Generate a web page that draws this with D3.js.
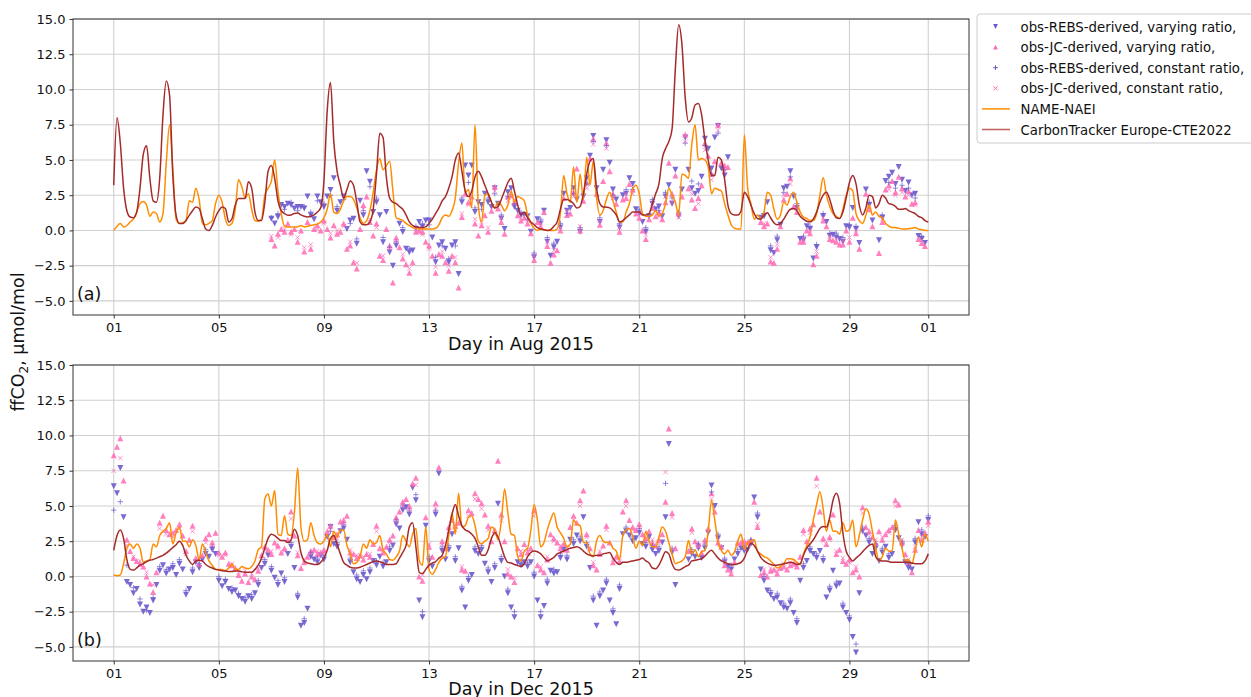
<!DOCTYPE html>
<html>
<head>
<meta charset="utf-8">
<script src="https://cdn.jsdelivr.net/npm/d3@7"></script>
<style>
  body { margin: 0; background: #fff; }
  svg { display: block; font-family: "DejaVu Sans", sans-serif; }
</style>
</head>
<body>
<svg id="chart" width="1251" height="697"></svg>
<script>
// sampling: model lines and varying-ratio obs every 3 h, constant-ratio obs every 6 h,
// first value at 00:00 on day 1 of the month
const stepHours = 3;
const conStepHours = 6;
const dayTicks = [1, 5, 9, 13, 17, 21, 25, 29];
const yTicks = [-5, -2.5, 0, 2.5, 5, 7.5, 10, 12.5, 15];

// ---- August 2015 ----
const ctAug = [3.2,8.0,6.2,3.0,1.4,0.95,0.9,1.3,3.0,5.4,6.0,3.7,2.1,2.0,3.7,8.2,10.6,9.6,3.9,1.07,0.5,0.5,0.7,1.07,1.4,1.67,1.55,0.83,0.1,0.0,0.36,0.95,1.4,1.67,1.55,0.6,0.83,1.8,2.26,2.26,2.26,3.45,3.0,1.3,0.7,0.7,2.0,4.2,4.6,3.7,2.1,1.4,1.2,1.07,1.1,1.2,1.24,
  1.1,1.0,0.95,1.0,1.1,1.3,1.6,3.5,8.5,10.5,6.3,4.2,3.2,2.3,2.9,3.5,3.2,2.0,0.6,0.4,0.4,0.6,1.5,4.0,6.9,6.6,3.8,2.3,2.0,1.9,1.7,1.5,1.1,0.6,0.35,0.25,0.2,0.2,0.25,0.5,0.8,1.2,1.6,2.1,2.4,3.0,3.8,5.0,5.5,4.2,2.8,2.4,2.8,3.8,4.2,3.8,3.2,2.6,2.0,1.6,1.7,2.2,2.8,3.4,3.7,2.8,1.8,1.1,
  1.3,0.9,0.6,0.4,0.2,0.1,0.05,0.0,0.05,0.3,0.6,1.5,2.2,2.2,2.1,1.9,1.6,1.7,2.6,4.0,4.9,5.1,3.0,1.9,1.67,1.65,1.6,1.4,1.1,0.6,0.7,0.9,1.1,1.3,1.3,1.3,1.1,1.1,1.2,1.9,2.6,3.3,5.1,5.8,6.3,7.2,11.5,14.6,13.2,9.4,7.7,8.0,8.9,9.0,8.2,6.4,5.0,3.9,3.9,5.2,5.0,3.6,1.8,1.2,1.1,1.1,1.4,2.7,
  2.4,1.8,1.2,0.85,0.8,1.1,1.25,0.9,0.55,0.4,0.5,0.8,1.2,1.5,1.55,1.4,1.0,0.8,0.65,0.6,0.8,1.3,2.0,2.5,2.7,2.2,1.4,0.9,0.85,1.3,2.3,3.4,3.9,3.3,1.8,1.1,1.6,2.5,2.4,1.6,1.9,2.5,2.3,1.9,1.85,1.7,1.5,1.5,1.55,1.4,1.3,1.2,1.0,0.9,0.7,0.6];

const nameAug = [0.0,0.3,0.5,0.25,0.35,0.6,0.8,1.3,1.9,2.05,1.8,1.0,1.3,1.2,0.6,1.2,4.8,7.5,4.3,0.8,0.5,0.55,0.7,2.1,2.0,3.0,2.2,0.5,0.4,0.5,0.7,1.9,2.5,2.0,0.8,0.35,0.5,1.5,3.6,3.1,2.3,2.6,1.5,0.7,0.65,0.8,2.5,3.0,3.5,5.0,2.8,1.2,0.3,0.25,0.25,0.25,0.25,
  0.35,0.25,0.3,0.35,0.4,0.45,0.6,0.9,1.5,2.6,1.3,1.2,1.5,2.1,2.4,2.4,2.2,1.6,0.9,0.5,0.7,1.4,2.7,4.3,5.1,4.3,4.6,4.9,2.8,0.9,0.8,0.7,0.5,0.35,0.2,0.15,0.1,0.1,0.1,0.1,0.1,0.15,0.4,0.9,1.1,1.0,1.4,2.3,4.8,6.2,2.7,2.9,1.6,7.5,1.8,0.6,2.5,2.6,2.0,1.6,2.0,1.8,1.4,1.8,2.8,2.0,2.4,2.3,
  2.1,1.1,0.5,0.15,0.0,0.1,0.05,0.0,0.0,0.0,0.1,1.2,3.9,2.6,2.0,4.5,2.0,4.0,2.2,5.2,3.2,4.9,2.3,1.1,1.4,2.2,2.7,2.1,1.3,0.6,0.6,1.3,1.9,2.9,3.2,2.6,1.2,1.0,1.0,1.1,1.4,1.0,1.2,1.9,3.0,2.5,2.0,1.1,4.0,3.9,3.7,6.1,7.5,5.0,5.1,5.0,4.5,2.6,3.0,2.9,2.8,1.9,1.1,0.4,0.15,0.1,0.1,6.8,
  3.0,1.9,0.8,1.1,0.85,1.3,2.7,2.5,1.5,0.8,1.1,2.0,1.8,2.4,2.7,2.0,1.3,0.95,0.85,0.7,0.7,1.2,2.5,3.75,2.5,1.7,1.2,1.0,0.85,1.5,2.5,3.0,2.8,1.2,0.7,0.5,1.07,1.8,1.1,1.3,1.0,0.9,0.5,0.3,0.2,0.2,0.15,0.1,0.1,0.12,0.15,0.2,0.1,0.05,0.0,0.0];

const rebsVarAug = [null,null,null,null,null,null,null,null,null,null,null,null,null,null,null,null,
  null,null,null,null,null,null,null,null,null,null,null,null,null,null,null,null,
  null,null,null,null,null,null,null,null,null,null,null,null,null,null,null,null,
  0.83,0.5,0.95,1.8,1.67,1.9,1.8,1.55,1.67,
  1.67,1.55,2.4,1.07,0.8,2.4,2.0,1.67,2.4,2.86,3.7,1.4,2.0,2.4,0.1,0.7,0.83,-0.95,2.1,1.07,4.2,3.45,1.3,2.0,1.07,-0.83,1.3,-1.55,-2.5,-1.07,0.48,-0.12,-1.3,-1.55,-1.43,0.1,0.6,0.24,0.7,0.7,-0.5,-2.26,-1.07,-0.83,-1.3,-2.26,-1.07,-0.83,-3.1,2.0,4.6,3.9,4.6,1.3,2.0,1.8,2.6,2.0,1.67,3.0,1.9,0.83,0.1,2.7,3.0,1.67,1.4,1.07,
  1.1,1.0,-0.1,-1.9,0.8,0.5,1.4,-0.8,-1.8,-1.2,-0.8,0.2,2.6,1.4,1.6,3.0,2.2,-0.1,2.4,3.7,5.3,6.7,3.0,0.6,4.3,6.4,4.8,2.9,2.2,0.2,2.5,2.6,3.7,3.3,1.5,1.2,0.6,-0.1,1.0,1.9,1.5,1.7,1.0,2.4,3.2,1.9,4.3,1.0,2.9,6.6,4.3,3.0,2.6,2.8,3.8,6.5,5.8,4.4,6.6,7.4,4.4,3.9,5.2,
  null,null,null,null,null,null,null,null,null,
  0.9,1.0,2.0,-1.4,-1.6,-0.7,0.4,3.0,3.1,4.2,2.4,1.6,-0.6,-0.7,0.3,0.1,-2.0,-1.2,null,1.0,0.6,-0.4,-0.3,-0.5,-0.6,-0.8,0.3,0.2,1.6,0.1,-0.9,null,2.9,1.8,0.7,null,-0.7,0.9,3.5,3.8,4.1,3.3,4.5,3.6,2.8,3.4,2.5,2.6,-0.4,-0.6,-0.9,null];

const jcVarAug = [null,null,null,null,null,null,null,null,null,null,null,null,null,null,null,null,
  null,null,null,null,null,null,null,null,null,null,null,null,null,null,null,null,
  null,null,null,null,null,null,null,null,null,null,null,null,null,null,null,null,
  -0.6,-1.07,-0.24,0.1,-0.1,0.5,-0.1,0.1,-0.8,
  0.0,-1.5,0.6,-1.3,0.1,0.36,0.0,0.7,0.1,-0.5,0.36,-0.24,-0.1,0.5,-1.3,-1.07,-2.26,-2.7,0.1,1.8,2.4,0.6,-0.36,0.5,-1.8,-2.1,0.1,-1.07,-3.7,-0.5,-1.2,-2.0,-2.4,-3.0,-2.26,-0.1,0.0,-0.1,-0.8,-1.07,-1.8,-3.0,-1.67,-1.8,-2.26,-2.86,-1.8,-2.26,-4.05,0.95,2.6,2.0,2.4,0.5,-0.36,0.36,1.07,-0.1,1.4,3.1,1.55,0.6,-0.24,2.4,2.5,2.0,1.07,0.7,
  0.9,0.5,-0.2,-2.1,0.6,0.3,1.3,-1.1,-2.3,-1.7,-1.4,0.0,2.3,1.1,1.2,2.7,4.4,0.0,2.1,3.4,5.1,6.5,2.6,0.4,3.5,6.2,4.2,2.6,1.9,-0.1,2.2,2.3,3.3,2.9,1.2,0.9,0.0,-0.6,0.8,1.6,1.0,1.3,0.8,2.0,4.8,2.6,3.9,1.2,2.4,6.8,3.0,2.2,1.6,2.3,3.2,6.2,5.3,4.0,4.9,7.5,4.8,4.6,4.5,
  null,null,null,null,null,null,null,null,null,
  0.6,0.3,0.5,-2.2,-2.3,-1.3,0.3,2.2,2.6,3.7,1.7,1.3,-0.8,-0.8,0.0,-0.2,-2.4,-1.8,null,0.7,0.3,-0.6,-0.7,-0.8,-1.0,-1.0,0.0,-0.8,0.9,-0.2,-1.3,null,2.6,1.5,0.3,null,-1.6,0.6,2.9,3.2,3.5,2.7,3.8,3.0,2.4,2.8,1.9,2.0,-0.6,-0.9,-1.1,null];

const rebsConAug = [null,null,null,null,null,null,null,null,null,null,null,null,
  null,null,null,null,null,null,null,null,null,null,null,null,
  0.9,1.2,1.5,2.0,1.4,1.7,1.3,2.1,1.9,2.5,1.7,2.2,0.5,-0.6,1.4,3.1,2.3,-0.5,-1.2,-0.8,0.2,-1.3,0.3,0.5,0.4,-1.9,-1.1,-2.0,-1.1,2.3,3.4,1.6,1.5,2.3,2.6,1.1,2.4,1.9,1.3,0.8,-1.6,0.8,-0.5,-0.9,0.5,1.2,2.6,0.2,3.3,6.3,0.9,6.0,2.5,0.5,2.9,2.9,1.5,0.2,2.2,1.4,2.7,2.3,1.3,6.2,3.5,3.3,6.0,4.0,6.9,4.3,
  null,null,null,null,null,
  1.2,-1.1,-0.4,2.7,3.8,1.9,-0.4,0.3,-1.0,1.2,-0.2,-0.2,-0.5,0.4,0.3,null,2.0,null,1.1,3.4,3.0,3.2,3.0,2.3,-0.4,null];

const jcConAug = [null,null,null,null,null,null,null,null,null,null,null,null,
  null,null,null,null,null,null,null,null,null,null,null,null,
  -0.4,-0.5,0.1,-0.3,-0.5,-1.2,-1.0,0.1,0.5,-0.2,0.0,0.3,-0.8,-2.3,1.5,0.8,0.2,-1.8,-1.3,-0.8,-1.7,-2.7,0.1,-0.3,-1.3,-2.6,-1.5,-2.5,-1.9,1.2,1.8,0.8,0.6,0.2,2.8,0.9,2.1,2.2,0.9,0.7,-1.8,0.5,-0.8,-1.4,0.2,1.4,2.4,0.3,3.0,6.1,0.7,5.8,2.3,0.2,2.6,2.6,1.2,-0.3,1.9,1.0,2.4,2.0,0.9,6.3,2.6,1.9,5.7,3.6,7.1,4.2,
  null,null,null,null,null,
  0.5,-1.9,-1.0,2.5,3.3,1.6,-0.6,0.0,-1.5,0.9,-0.4,-0.6,-0.7,-0.5,0.0,null,1.7,null,0.8,2.9,2.5,2.7,2.5,1.8,-0.7,null];

// ---- December 2015 ----
const ctDec = [1.85,2.9,3.3,2.7,1.2,0.5,0.45,0.6,0.8,0.9,1.05,1.15,1.2,1.3,1.4,1.5,1.65,1.85,2.05,2.25,2.5,2.2,1.5,1.1,0.85,1.1,1.15,1.1,0.85,0.7,0.6,0.5,0.45,0.4,0.38,0.35,0.35,0.38,0.38,0.33,0.3,0.3,0.3,0.5,0.8,1.3,2.0,2.7,3.0,2.9,2.7,2.55,2.55,2.4,2.6,3.35,2.9,
  1.7,1.1,0.95,0.9,0.85,0.85,1.0,1.3,1.85,2.7,2.9,2.3,1.6,1.0,0.8,0.65,0.6,0.6,0.65,0.75,0.85,0.95,1.05,1.1,1.05,0.95,0.85,0.85,0.85,0.9,1.3,1.7,2.2,3.5,3.8,2.1,0.3,0.2,0.5,0.8,0.95,1.05,1.3,1.5,2.2,3.3,4.4,5.1,4.3,3.6,3.3,3.2,3.0,2.7,2.1,1.5,1.5,1.9,2.7,3.1,2.8,2.1,1.4,1.0,0.95,0.85,0.78,0.7,
  0.9,1.4,1.7,1.8,1.75,1.6,1.35,1.1,1.2,1.35,1.6,1.7,1.8,1.9,2.0,2.05,2.1,2.0,1.8,1.6,1.5,1.45,1.5,1.5,1.6,1.65,1.7,1.3,1.0,0.85,1.0,1.0,1.05,1.1,1.15,1.2,1.3,1.1,0.95,0.6,0.55,0.8,1.3,1.75,1.6,0.9,0.5,0.45,0.55,0.7,0.8,1.1,1.15,1.2,1.25,1.45,1.7,1.85,1.6,1.3,1.1,1.0,0.9,0.85,0.85,0.9,1.0,1.3,
  1.9,2.35,2.2,1.8,1.35,1.1,0.95,0.85,0.8,0.8,0.85,0.9,0.95,1.0,0.95,0.85,0.9,1.5,2.0,2.3,2.6,3.0,3.4,3.55,3.5,4.2,5.4,5.9,5.2,3.1,1.8,1.35,1.1,1.3,1.5,1.75,2.0,2.2,2.3,1.4,1.15,1.1,1.1,1.05,1.0,1.0,1.0,1.0,1.0,1.0,0.95,0.9,0.9,0.9,1.1,1.6];

const nameDec = [0.1,0.05,0.1,0.9,2.0,2.3,2.0,2.3,2.0,1.0,1.1,1.2,2.3,2.1,2.9,3.2,3.4,3.8,2.3,3.1,3.5,2.5,2.5,2.1,2.6,2.2,1.2,2.3,1.7,1.1,0.8,0.5,0.5,0.5,0.4,0.6,0.9,0.5,0.5,0.7,0.6,0.55,0.7,1.1,1.9,2.1,5.5,5.85,5.0,6.1,3.0,2.9,4.3,3.0,2.9,4.5,7.7,
  3.5,2.5,2.6,3.8,2.9,2.4,2.3,2.5,3.0,2.1,3.2,2.8,3.3,3.3,2.2,1.6,0.9,1.0,1.4,2.3,2.0,2.6,2.3,2.4,2.9,1.9,1.6,1.2,1.15,1.4,1.8,2.9,2.5,2.1,3.0,3.4,1.15,0.8,3.5,0.5,0.15,0.5,1.0,1.3,1.4,2.9,4.5,3.0,5.9,3.5,3.6,4.2,4.3,3.6,2.5,2.3,2.5,2.7,3.5,3.3,2.6,3.9,6.2,4.5,3.0,2.9,1.4,1.1,
  1.8,2.0,3.3,5.1,4.0,2.1,2.4,3.3,4.0,4.5,3.5,3.1,2.7,2.1,2.3,4.0,3.7,3.6,2.4,2.4,1.6,1.4,2.5,2.9,2.5,2.4,2.4,2.0,1.8,1.2,2.9,3.3,3.4,2.8,2.0,2.5,2.2,3.2,2.5,2.1,2.1,2.8,3.5,3.2,2.4,1.6,0.9,1.0,1.1,1.4,2.55,1.6,1.9,1.4,1.75,1.85,3.2,5.4,4.0,2.4,1.85,1.6,1.85,1.5,1.75,2.5,3.0,1.9,
  2.4,2.5,2.6,1.8,1.6,1.4,1.3,1.1,0.85,0.6,0.7,0.9,1.25,1.25,1.2,1.0,0.85,1.6,2.2,2.8,4.0,5.1,6.0,4.8,3.2,4.0,3.2,3.2,3.0,3.8,3.2,3.3,4.0,2.1,2.9,4.0,4.8,4.4,3.2,2.0,1.1,1.4,2.0,1.8,1.8,4.0,3.0,2.0,1.1,1.2,0.9,1.8,2.8,2.1,3.0,2.5];

const rebsVarDec = [6.4,5.9,7.7,4.2,-0.4,-0.6,-1.2,-0.9,-2.0,-2.5,-2.2,-2.6,-1.7,-0.6,0.4,0.8,0.2,0.5,0.6,0.1,0.9,0.5,-1.3,-0.9,0.3,1.0,0.6,1.2,1.6,1.4,1.9,1.6,-0.3,-0.7,-0.4,-0.9,-1.1,-1.0,-1.4,-1.6,-1.8,-1.4,-1.6,-1.2,-0.6,0.6,0.9,1.5,0.4,-0.1,-0.6,0.2,-0.4,1.6,2.1,0.6,-1.5,
  -3.5,-3.3,-2.3,1.4,1.2,1.0,1.5,1.2,2.8,3.5,2.3,2.1,3.2,3.4,2.6,1.0,0.3,-0.2,-0.4,0.1,-0.2,0.3,1.1,0.8,1.4,0.7,1.0,1.8,2.2,3.7,3.4,4.7,4.9,4.4,6.3,5.4,-1.7,-2.9,3.6,1.1,0.7,4.4,7.3,1.8,1.2,1.9,3.0,1.1,2.0,-1.0,-2.2,-0.3,0.1,1.8,1.6,1.9,0.9,0.3,-0.4,0.6,5.15,1.1,0.0,-1.2,-2.2,-2.9,1.0,0.8,
  1.0,0.7,1.0,0.0,-1.7,-2.9,-2.1,-0.5,0.4,0.2,0.3,1.3,1.9,1.2,2.6,2.3,2.9,2.5,4.2,2.1,0.6,-1.7,-3.5,-1.4,-1.0,-0.5,-1.7,-2.6,-3.4,-0.9,3.0,3.2,2.9,2.5,2.7,3.1,2.3,2.1,2.8,1.9,1.6,1.8,2.4,4.2,9.4,1.7,-0.6,null,null,null,1.2,1.6,1.4,2.0,1.3,2.0,3.1,6.45,5.0,2.7,2.0,1.0,0.7,0.5,1.2,1.6,2.0,1.8,
  1.9,2.3,5.6,4.2,0.5,-0.3,-1.0,-1.3,-1.6,-1.5,-1.9,-2.2,-2.3,-1.9,-2.6,-3.3,-0.3,0.6,1.1,1.8,1.6,1.3,1.8,1.1,-1.5,-1.0,0.4,-0.7,-0.5,-2.2,-2.6,-3.1,-4.3,-5.4,-1.2,3.2,2.9,2.4,1.6,2.0,1.1,1.7,2.1,1.3,1.6,3.3,2.7,2.2,1.0,0.6,0.5,2.4,3.85,3.0,2.8,4.0];

const jcVarDec = [8.6,9.2,9.8,6.8,2.6,1.8,1.3,1.1,0.9,0.7,0.0,-0.5,-1.1,0.3,3.8,4.3,3.3,3.0,3.1,3.3,3.7,2.9,1.8,2.6,3.6,1.3,0.9,1.5,2.7,3.0,2.4,3.1,1.7,1.4,1.7,0.9,0.8,0.6,0.1,-0.3,0.2,-0.4,0.0,-0.2,0.4,1.5,2.1,1.9,1.6,2.4,2.2,1.7,2.0,2.6,4.6,2.9,1.5,
  0.6,1.0,1.4,1.8,1.9,1.6,1.7,1.9,3.2,3.6,2.8,3.0,3.9,4.0,4.3,1.7,1.6,1.3,1.5,1.2,1.6,1.4,2.3,3.6,2.0,1.7,2.1,2.6,2.9,4.2,4.6,5.3,5.5,5.0,6.6,7.0,0.0,-0.3,4.2,2.1,1.4,5.2,7.75,2.5,2.0,3.5,4.0,3.6,3.8,0.5,0.4,4.7,4.5,5.9,5.5,5.2,4.4,3.6,2.5,3.3,8.2,4.4,2.5,0.2,0.0,-0.4,2.0,1.6,
  2.3,1.7,2.0,4.7,0.8,0.5,0.3,1.2,3.0,2.7,2.4,2.0,2.3,1.9,3.5,4.3,3.8,5.4,6.1,3.0,2.0,0.8,0.5,1.6,2.2,3.6,2.4,1.0,1.4,1.1,4.6,5.4,4.0,3.5,3.3,3.7,3.0,2.7,3.2,2.4,2.2,2.6,3.0,5.3,10.5,4.5,2.0,null,null,null,1.8,3.4,2.5,2.3,1.7,2.6,3.4,5.9,4.6,2.4,2.1,0.8,0.5,0.2,1.0,2.4,2.4,2.5,
  2.4,2.6,5.3,3.5,0.1,0.3,0.0,0.4,0.5,0.2,0.6,0.7,0.5,0.8,0.9,0.7,1.4,3.3,2.5,3.4,3.7,7.0,4.6,2.7,2.3,2.8,4.4,1.6,1.9,1.1,0.9,1.2,0.3,0.5,0.0,4.9,3.5,3.2,2.8,2.4,3.2,2.6,3.0,3.3,3.5,5.4,5.1,2.4,1.6,1.0,0.3,1.9,3.3,2.6,3.1,3.9];

const rebsConDec = [4.7,5.3,0.8,-0.8,-1.6,-2.4,-1.5,0.7,0.5,0.9,1.2,-1.0,0.6,0.9,1.9,2.1,0.0,-0.2,-0.8,-1.2,-1.5,-1.3,-0.3,1.2,0.7,-0.3,-0.1,2.4,-1.2,
  -3.0,1.7,1.3,1.5,3.2,2.4,3.7,1.3,0.1,0.4,0.6,1.1,1.0,2.1,4.0,5.0,4.7,5.8,-2.5,1.4,4.7,2.1,2.2,1.4,-0.7,0.0,2.1,2.2,0.6,0.9,1.4,-0.9,-2.5,1.1,
  1.0,0.3,-2.5,-0.2,0.5,1.6,1.5,2.6,2.8,2.4,-1.4,-1.1,-0.2,-2.3,-0.6,3.5,2.8,3.4,2.4,2.2,2.1,6.6,2.0,null,null,1.9,2.3,2.3,6.0,3.0,1.3,0.8,1.9,2.1,
  2.6,4.5,0.0,-1.0,-1.2,-1.9,-1.6,-3.0,0.9,2.1,1.6,1.4,-0.7,-0.4,-1.9,-2.8,-4.8,3.5,2.7,2.3,2.0,1.6,3.6,2.5,0.9,2.7,3.3,4.3];

const jcConDec = [7.5,8.4,2.2,1.4,1.1,0.3,-0.6,3.4,3.0,2.8,3.4,1.6,3.2,1.2,2.4,2.2,1.5,1.5,0.9,0.3,0.4,0.2,0.6,1.9,1.8,2.0,1.8,4.1,1.7,
  1.2,1.6,1.8,1.7,3.3,2.7,3.7,1.9,1.5,1.4,1.6,3.2,1.9,2.4,3.9,5.0,4.7,6.5,0.1,2.3,4.8,2.3,3.2,3.3,0.7,4.3,5.5,4.8,3.3,3.0,4.0,0.5,-0.1,1.8,
  1.9,4.3,0.7,1.4,2.5,2.2,2.1,4.0,5.0,2.8,1.0,1.8,3.3,1.2,1.3,5.0,3.3,3.5,2.5,2.6,2.4,7.4,4.2,null,null,3.1,2.1,2.4,5.5,2.6,1.0,0.4,2.2,2.3,
  2.4,3.7,0.5,0.6,0.4,0.9,1.0,0.9,3.0,3.1,6.4,2.5,2.6,1.8,1.3,1.0,0.7,4.5,3.0,2.6,2.8,3.1,5.0,2.6,1.2,2.1,2.8,3.6];

// ---- styling ----
const colRebs = '#6a5acd';
const colJc = '#ff69b4';
const colName = '#ff8c00';
const colCt = '#a52a2a';
const fontTick = 13;

const svg = d3.select('#chart');
const left = 73, right = 969;

const panels = [
  { month: 7, top: 19, bottom: 315, tag: '(a)', title: 'Day in Aug 2015', titleY: 350,
    ct: ctAug, name: nameAug, rv: rebsVarAug, jv: jcVarAug, rc: rebsConAug, jc: jcConAug },
  { month: 11, top: 365, bottom: 661, tag: '(b)', title: 'Day in Dec 2015', titleY: 695,
    ct: ctDec, name: nameDec, rv: rebsVarDec, jv: jcVarDec, rc: rebsConDec, jc: jcConDec }
];

// marker shapes (matplotlib-like)
const triDown = r => `M${-r},${-r}L${r},${-r}L0,${r}Z`;
const triUp = r => `M${-r},${r}L${r},${r}L0,${-r}Z`;
const plus = r => `M${-r},0H${r}M0,${-r}V${r}`;
const cross = r => `M${-r},${-r}L${r},${r}M${-r},${r}L${r},${-r}`;

function toPoints(arr, start, step) {
  return arr.map((v, i) => ({ t: new Date(start + i * step * 3600e3), v }))
            .filter(d => d.v != null);
}

panels.forEach((p, pi) => {
  const start = Date.UTC(2015, p.month, 1);
  const end = Date.UTC(2015, p.month + 1, 1);
  const pad = (end - start) * 0.05;
  const x = d3.scaleUtc().domain([new Date(start - pad), new Date(end + pad)]).range([left, right]);
  const y = d3.scaleLinear().domain([-6, 15]).range([p.bottom, p.top]);
  const tickDates = dayTicks.map(d => new Date(Date.UTC(2015, p.month, d))).concat([new Date(end)]);

  const g = svg.append('g');

  svg.append('clipPath').attr('id', 'clip' + pi)
    .append('rect').attr('x', left).attr('y', p.top).attr('width', right - left).attr('height', p.bottom - p.top);

  // grid
  g.append('g').selectAll('line').data(tickDates).join('line')
    .attr('x1', d => x(d)).attr('x2', d => x(d)).attr('y1', p.top).attr('y2', p.bottom)
    .attr('stroke', '#d0d0d0').attr('stroke-width', 1.1);
  g.append('g').selectAll('line').data(yTicks).join('line')
    .attr('x1', left).attr('x2', right).attr('y1', d => y(d)).attr('y2', d => y(d))
    .attr('stroke', '#d0d0d0').attr('stroke-width', 1.1);

  const plot = g.append('g').attr('clip-path', `url(#clip${pi})`);

  // observations
  const series = [
    { data: toPoints(p.rv, start, stepHours), path: triDown(3), fill: colRebs, stroke: 'none', op: 0.9 },
    { data: toPoints(p.jv, start, stepHours), path: triUp(3), fill: colJc, stroke: 'none', op: 0.85 },
    { data: toPoints(p.rc, start, conStepHours), path: plus(2.7), fill: 'none', stroke: colRebs, op: 0.7 },
    { data: toPoints(p.jc, start, conStepHours), path: cross(2.2), fill: 'none', stroke: colJc, op: 0.7 }
  ];
  series.forEach(s => {
    plot.append('g').selectAll('path').data(s.data).join('path')
      .attr('transform', d => `translate(${x(d.t)},${y(d.v)})`)
      .attr('d', s.path)
      .attr('fill', s.fill)
      .attr('stroke', s.stroke)
      .attr('stroke-width', 1)
      .attr('opacity', s.op);
  });

  // model lines
  const line = d3.line().x(d => x(d.t)).y(d => y(d.v)).curve(d3.curveMonotoneX);
  plot.append('path').datum(toPoints(p.name, start, stepHours))
    .attr('d', line).attr('fill', 'none').attr('stroke', colName).attr('stroke-width', 1.5);
  plot.append('path').datum(toPoints(p.ct, start, stepHours))
    .attr('d', line).attr('fill', 'none').attr('stroke', colCt).attr('stroke-width', 1.5);

  // axes
  const xAxis = g.append('g').attr('transform', `translate(0,${p.bottom})`)
    .call(d3.axisBottom(x).tickValues(tickDates).tickFormat(d3.utcFormat('%d')).tickSize(3.5).tickPadding(4));
  const yAxis = g.append('g').attr('transform', `translate(${left},0)`)
    .call(d3.axisLeft(y).tickValues(yTicks).tickFormat(d3.format('.1f')).tickSize(3.5).tickPadding(4));
  [xAxis, yAxis].forEach(a => {
    a.attr('font-family', '"DejaVu Sans", sans-serif').attr('font-size', fontTick);
    a.selectAll('text').attr('fill', '#111');
    a.selectAll('line').attr('stroke', '#333');
    a.select('.domain').remove();
  });

  // frame
  g.append('rect').attr('x', left).attr('y', p.top).attr('width', right - left).attr('height', p.bottom - p.top)
    .attr('fill', 'none').attr('stroke', '#333').attr('stroke-width', 1);

  g.append('text').attr('x', (left + right) / 2).attr('y', p.titleY)
    .attr('text-anchor', 'middle').attr('font-size', 17.5).attr('fill', '#111').text(p.title);

  g.append('text').attr('x', left + 4).attr('y', p.bottom - 15)
    .attr('font-size', 17.5).attr('fill', '#111').text(p.tag);
});

// shared y label
const yl = svg.append('text').attr('transform', 'translate(24,342) rotate(-90)')
  .attr('text-anchor', 'middle').attr('font-size', 17.5).attr('fill', '#111');
yl.append('tspan').text('ffCO');
yl.append('tspan').attr('font-size', 12).attr('dy', 4).text('2');
yl.append('tspan').attr('dy', -4).text(', μmol/mol');

// legend
const legendItems = [
  { label: 'obs-REBS-derived, varying ratio,', kind: 'm', path: triDown(2.4), fill: colRebs, stroke: 'none' },
  { label: 'obs-JC-derived, varying ratio,', kind: 'm', path: triUp(2.4), fill: colJc, stroke: 'none' },
  { label: 'obs-REBS-derived, constant ratio,', kind: 'm', path: plus(2.4), fill: 'none', stroke: colRebs },
  { label: 'obs-JC-derived, constant ratio,', kind: 'm', path: cross(2), fill: 'none', stroke: colJc },
  { label: 'NAME-NAEI', kind: 'l', color: colName },
  { label: 'CarbonTracker Europe-CTE2022', kind: 'l', color: colCt }
];
const lg = svg.append('g');
lg.append('rect').attr('x', 977).attr('y', 14).attr('width', 290).attr('height', 129).attr('rx', 3)
  .attr('fill', '#fff').attr('stroke', '#cccccc').attr('stroke-width', 1);
legendItems.forEach((it, i) => {
  const cy = 26.5 + i * 20.6;
  if (it.kind === 'm') {
    lg.append('path').attr('transform', `translate(995.5,${cy})`).attr('d', it.path)
      .attr('fill', it.fill).attr('stroke', it.stroke).attr('stroke-width', 1);
  } else {
    lg.append('line').attr('x1', 982).attr('x2', 1010).attr('y1', cy).attr('y2', cy)
      .attr('stroke', it.color).attr('stroke-width', 1.5).attr('opacity', it.label === 'NAME-NAEI' ? 1 : 0.75);
  }
  lg.append('text').attr('x', 1020.5).attr('y', cy + 5).attr('font-size', 13.3).attr('fill', '#111').text(it.label);
});
</script>
</body>
</html>
